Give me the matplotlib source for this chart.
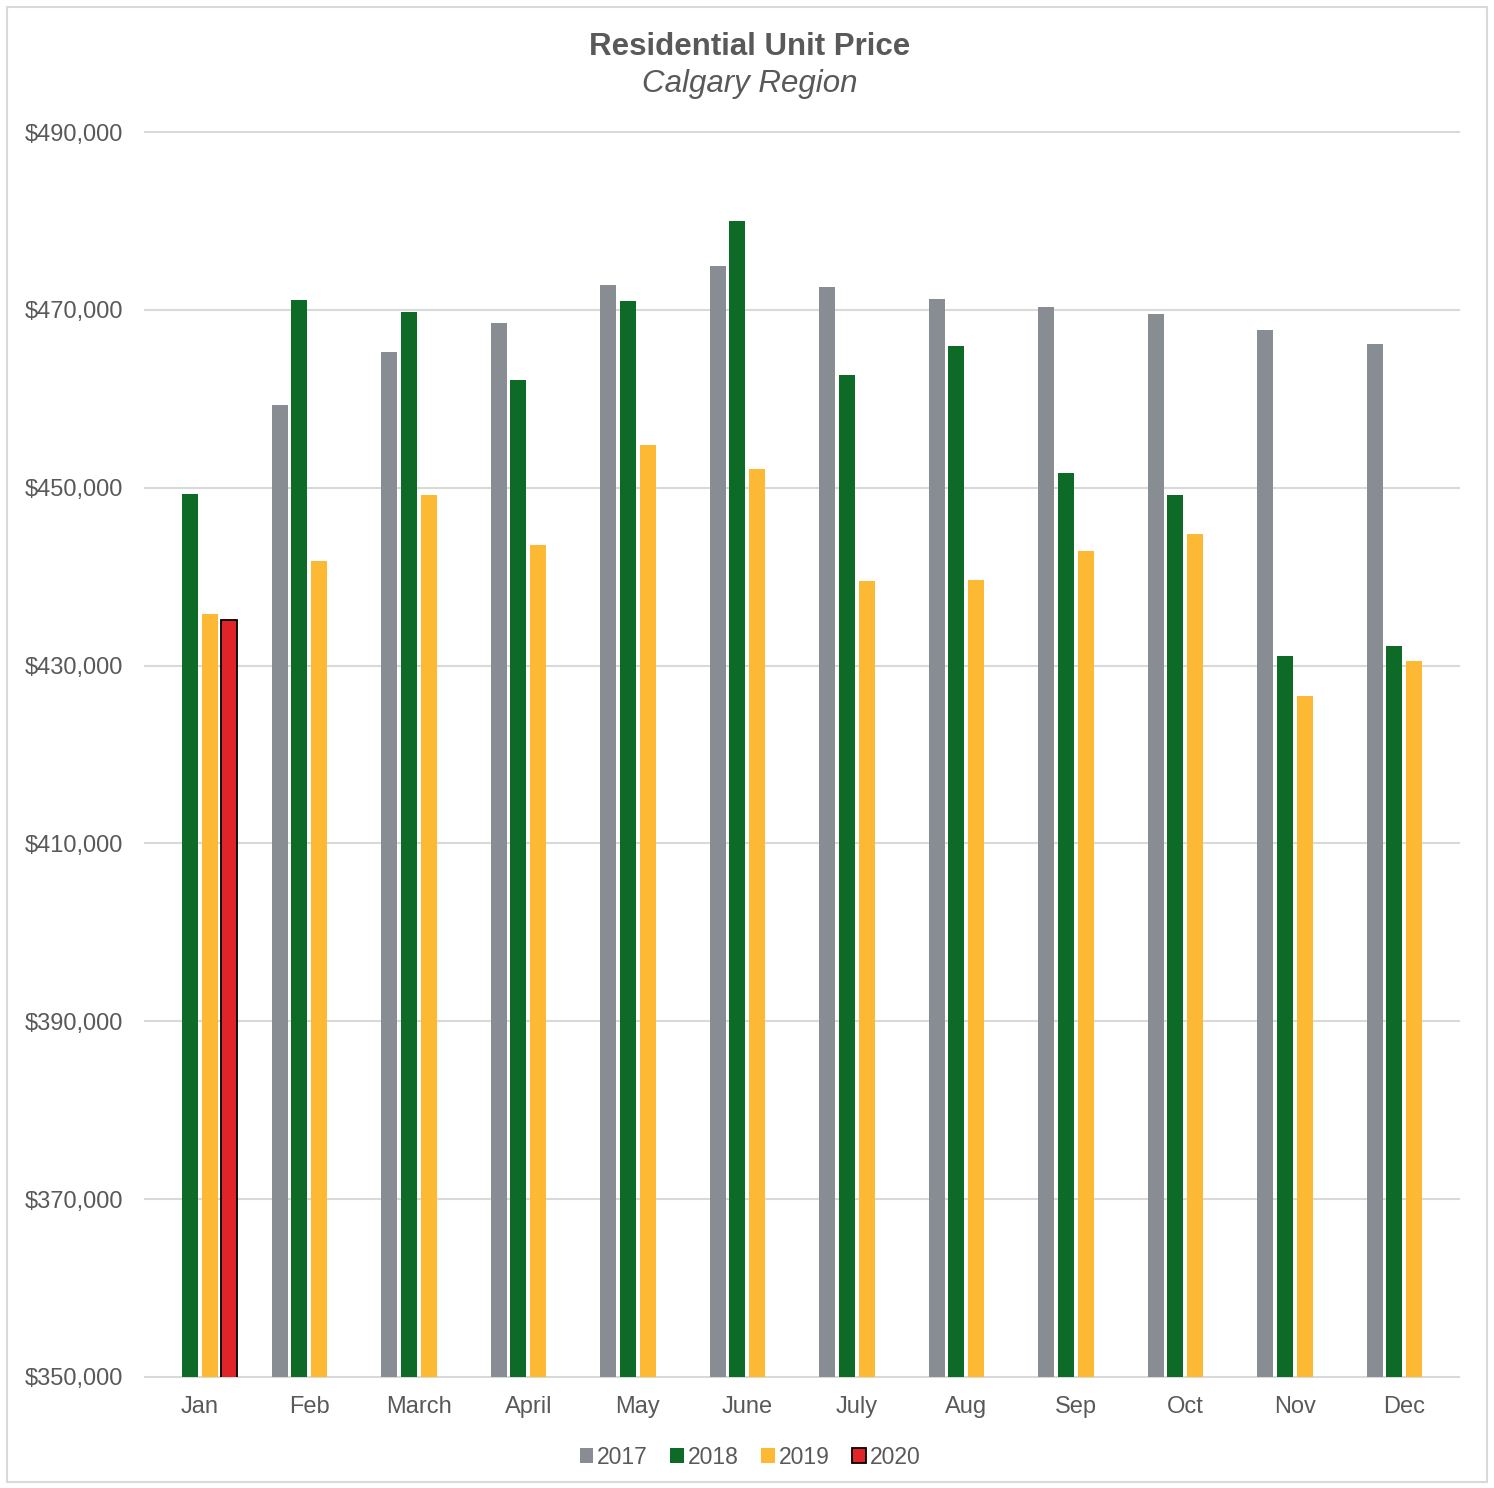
import numpy as np
import matplotlib
matplotlib.use("Agg")
import matplotlib.pyplot as plt
from matplotlib.patches import Rectangle
from matplotlib.ticker import FuncFormatter

# ── Data ───────────────────────────────────────────────────────────────────────
months = ["Jan", "Feb", "March", "April", "May", "June",
          "July", "Aug", "Sep", "Oct", "Nov", "Dec"]
years = ["2017", "2018", "2019", "2020"]

price_2017 = [np.nan, 459300, 465300, 468500, 472800, 474900,
              472600, 471200, 470300, 469500, 467700, 466200]
price_2018 = [449300, 471100, 469800, 462100, 471000, 480000,
              462700, 465900, 451700, 449200, 431100, 432200]
price_2019 = [435800, 441800, 449200, 443600, 454800, 452100,
              439500, 439600, 442900, 444800, 426600, 430500]
price_2020 = [435100] + [np.nan] * 11

y_ticks = [350000, 370000, 390000, 410000, 430000, 450000, 470000, 490000]

colors = ["#878D92", "#0E6B27", "#FDB933", "#E02427"]
text_col = "#595959"
grid_col = "#D9D9D9"

plt.rcParams["font.family"] = ["Liberation Sans", "DejaVu Sans"]

fig = plt.figure(figsize=(14.94, 14.88), dpi=100)
fig.patches.append(Rectangle((7 / 1494, 6 / 1488), 1480 / 1494, 1475 / 1488,
                             transform=fig.transFigure, fill=False,
                             edgecolor=grid_col, linewidth=1.5))

ax = fig.add_axes([145 / 1494, 1 - 1377 / 1488, 1314 / 1494, 1245 / 1488])

x = np.arange(len(months))
pitch = 0.18
width = 0.146
series = [price_2017, price_2018, price_2019, price_2020]
for i, (vals, col, yr) in enumerate(zip(series, colors, years)):
    offs = (i - 1.5) * pitch
    if yr == "2020":
        ax.bar(x + offs, vals, width, color=col, edgecolor="black",
               linewidth=1.3, label=yr, zorder=3)
    else:
        ax.bar(x + offs, vals, width, color=col, label=yr, zorder=3)

ax.set_xlim(-0.5, len(months) - 0.5)
ax.set_ylim(y_ticks[0], y_ticks[-1])
ax.set_yticks(y_ticks)
ax.yaxis.set_major_formatter(FuncFormatter(lambda v, _: f"${v:,.0f}"))
ax.set_xticks(x)
ax.set_xticklabels(months)
ax.tick_params(axis="both", length=0, labelsize=17, colors=text_col)
ax.tick_params(axis="y", pad=16)
ax.tick_params(axis="x", pad=14)
ax.grid(axis="y", color=grid_col, linewidth=1.5, zorder=0)
for gl in ax.get_ygridlines():
    gl.set_clip_on(False)
for s in ax.spines.values():
    s.set_visible(False)

fig.text(0.502, 1 - 47 / 1488, "Residential Unit Price", ha="center",
         va="center", fontsize=22.5, fontweight="bold", color=text_col)
fig.text(0.502, 1 - 84 / 1488, "Calgary Region", ha="center",
         va="center", fontsize=22.5, style="italic", color=text_col)

fig.legend(loc="center", bbox_to_anchor=(0.502, 1 - 1457 / 1488), ncol=4,
           frameon=False, fontsize=16.5, handlelength=0.6, handleheight=0.6,
           handletextpad=0.15, columnspacing=1.0, labelcolor=text_col)

fig.savefig("out.png", dpi=100, facecolor="white")
